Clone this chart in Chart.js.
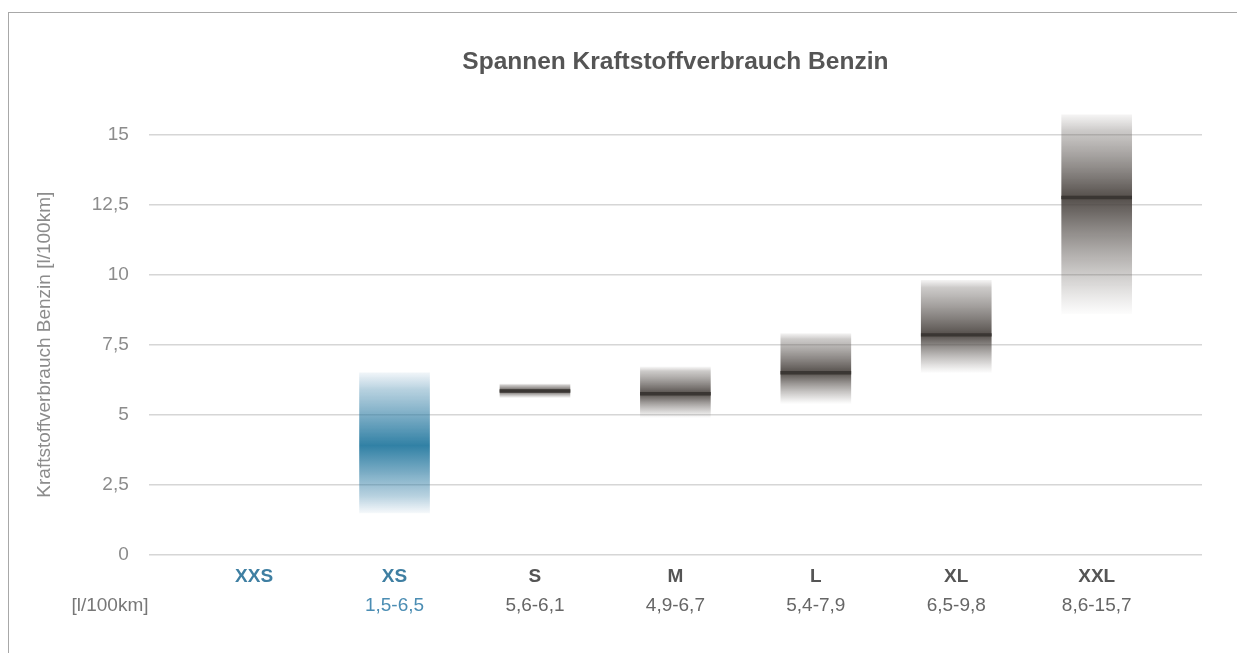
<!DOCTYPE html>
<html lang="de">
<head>
<meta charset="utf-8">
<title>Spannen Kraftstoffverbrauch Benzin</title>
<script src="https://cdn.jsdelivr.net/npm/chart.js@4/dist/chart.umd.min.js"></script>
<style>
    html, body { margin: 0; padding: 0; background: #fff; }
    #wrap { position: relative; width: 1237px; height: 653px; }
    #frame {
        position: absolute; left: 8px; top: 12px; right: -2px; bottom: -2px;
        border-top: 1px solid #a8a8a8; border-left: 1px solid #a8a8a8;
    }
    canvas { position: absolute; left: 0; top: 0; }
</style>
</head>
<body>
<div id="wrap">
    <div id="frame"></div>
    <canvas id="spannen-chart"></canvas>
</div>
<script>
const categories = ['XXS', 'XS', 'S', 'M', 'L', 'XL', 'XXL'];
const rangeLabels = ['', '1,5-6,5', '5,6-6,1', '4,9-6,7', '5,4-7,9', '6,5-9,8', '8,6-15,7'];
const ranges = [null, [1.5, 6.5], [5.6, 6.1], [4.9, 6.7], [5.4, 7.9], [6.5, 9.8], [8.6, 15.7]];
const peaks = [null, 3.9, 5.85, 5.75, 6.5, 7.85, 12.75];
const medianLines = [null, null, 5.85, 5.75, 6.5, 7.85, 12.75];
const yTicks = [0, 2.5, 5, 7.5, 10, 12.5, 15];
const highlighted = ['XXS', 'XS'];

const fmt = (v) => String(v).replace('.', ',');

function barGradient(ctx) {
    if (ctx.type !== 'data') return 'transparent';
    const i = ctx.dataIndex;
    const y = ctx.chart.scales.y;
    if (!y || !ranges[i]) return 'transparent';
    const top = y.getPixelForValue(ranges[i][1]);
    const bottom = y.getPixelForValue(ranges[i][0]);
    const peak = y.getPixelForValue(peaks[i]);
    if (!isFinite(top) || !isFinite(bottom) || bottom - top < 1) return 'rgba(60,55,52,0.8)';
    const stop = Math.min(0.98, Math.max(0.02, (peak - top) / (bottom - top)));
    const g = ctx.chart.ctx.createLinearGradient(0, top, 0, bottom);
    if (highlighted.includes(categories[i])) {
        g.addColorStop(0, 'rgba(60,125,170,0.08)');
        g.addColorStop(0.12, 'rgba(50,125,165,0.35)');
        g.addColorStop(stop, 'rgba(38,122,160,0.95)');
        g.addColorStop(0.88, 'rgba(50,125,165,0.35)');
        g.addColorStop(1, 'rgba(60,125,170,0.05)');
    } else {
        g.addColorStop(0, 'rgba(120,112,108,0.08)');
        g.addColorStop(0.08, 'rgba(110,104,100,0.35)');
        g.addColorStop(stop, 'rgba(70,64,60,0.92)');
        g.addColorStop(Math.min(0.99, stop + (1 - stop) * 0.75), 'rgba(110,104,100,0.25)');
        g.addColorStop(1, 'rgba(130,124,120,0.02)');
    }
    return g;
}

const bottomLabels = {
    id: 'bottomLabels',
    afterDraw(chart) {
        const { ctx, scales: { x } } = chart;
        ctx.save();
        ctx.textAlign = 'center';
        ctx.textBaseline = 'middle';
        categories.forEach((c, i) => {
            const px = x.getPixelForValue(i);
            const hl = highlighted.includes(c);
            ctx.font = 'bold 19px "Liberation Sans", Arial, sans-serif';
            ctx.fillStyle = hl ? '#3f7fa2' : '#555555';
            ctx.fillText(c, px, 577);
            ctx.font = '19px "Liberation Sans", Arial, sans-serif';
            ctx.fillStyle = hl ? '#4b8db3' : '#666666';
            ctx.fillText(rangeLabels[i], px, 606);
        });
        ctx.fillStyle = '#777777';
        ctx.fillText('[l/100km]', 110, 606);
        ctx.restore();
    },
};

new Chart(document.getElementById('spannen-chart'), {
    type: 'bar',
    data: {
        datasets: [
            {
                label: 'Spanne',
                data: categories.map((c, i) => ({ x: i, y: ranges[i] })),
                backgroundColor: barGradient,
                borderWidth: 0,
                barThickness: 70,
                grouped: false,
                clip: false,
                order: 2,
            },
            {
                label: 'Mittel',
                data: categories.map((c, i) => ({
                    x: i,
                    y: medianLines[i] === null ? null : [medianLines[i] - 0.05, medianLines[i] + 0.05],
                })),
                backgroundColor: '#3a3633',
                borderWidth: 0,
                barThickness: 70,
                grouped: false,
                clip: false,
                order: 1,
            },
        ],
    },
    plugins: [bottomLabels],
    options: {
        responsive: true,
        maintainAspectRatio: false,
        animation: false,
        layout: { padding: { left: 33, right: 35, top: 0, bottom: 98 } },
        plugins: {
            legend: { display: false },
            tooltip: { enabled: false },
            title: {
                display: true,
                fullSize: false,
                text: 'Spannen Kraftstoffverbrauch Benzin',
                color: '#555555',
                font: { family: '"Liberation Sans", Arial, sans-serif', size: 24.5, weight: 'bold' },
                padding: { top: 48, bottom: 57 },
            },
        },
        scales: {
            x: {
                type: 'linear',
                display: false,
                offset: false,
                min: -0.75,
                max: 6.75,
            },
            y: {
                min: 0,
                max: 15,
                afterBuildTicks: (axis) => { axis.ticks = yTicks.map((v) => ({ value: v })); },
                border: { display: false },
                grid: { color: '#d6d6d6', lineWidth: 1.5, drawTicks: false },
                ticks: {
                    color: '#8c8c8c',
                    padding: 20,
                    font: { family: '"Liberation Sans", Arial, sans-serif', size: 19 },
                    callback: (v) => fmt(v),
                },
                title: {
                    display: true,
                    text: 'Kraftstoffverbrauch Benzin [l/100km]',
                    color: '#8c8c8c',
                    font: { family: '"Liberation Sans", Arial, sans-serif', size: 19 },
                    padding: { top: 0, bottom: 16 },
                },
            },
        },
    },
});
</script>
</body>
</html>
